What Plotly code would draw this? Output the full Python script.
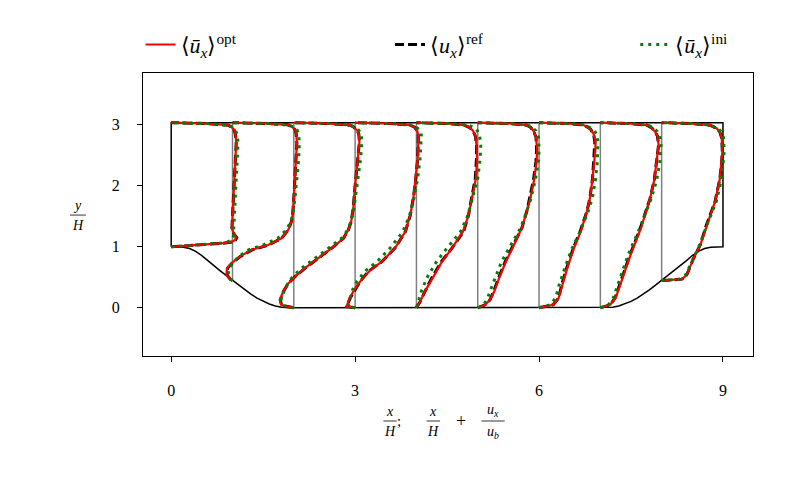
import plotly.graph_objects as go

# station positions x/H
STATIONS = [0, 1, 2, 3, 4, 5, 6, 7, 8]
TOP_WALL = 3.036

# hill contour (left half)
HILL_X = [0.0, 0.1, 0.2, 0.3, 0.4, 0.5, 0.6, 0.7, 0.8, 0.9, 1.0, 1.1, 1.2, 1.3, 1.4, 1.5, 1.6, 1.7, 1.8, 1.93]
HILL_Y = [1.0, 0.999, 0.994, 0.972, 0.925, 0.857, 0.77, 0.68, 0.607, 0.527, 0.448, 0.371, 0.295, 0.223, 0.159, 0.105, 0.062, 0.03, 0.01, 0.0]

# y/H levels of each profile (wall -> top)
Y_LEVELS = [
    [1.0, 1.02, 1.04, 1.06, 1.08, 1.11, 1.15, 1.2, 1.3, 1.5, 1.8, 2.12, 2.45, 2.7, 2.83, 2.91, 2.96, 2.995, 3.02, 3.036],
    [0.448, 0.47, 0.54, 0.65, 0.73, 0.84, 0.95, 1.03, 1.14, 1.28, 1.41, 1.52, 1.8, 2.12, 2.45, 2.7, 2.85, 2.92, 2.97, 3.0, 3.02, 3.036],
    [0.0, 0.02, 0.04, 0.13, 0.27, 0.40, 0.51, 0.65, 0.81, 0.98, 1.14, 1.28, 1.41, 1.63, 1.9, 2.12, 2.45, 2.72, 2.85, 2.91, 2.96, 2.995, 3.02, 3.036],
    [0.0, 0.01, 0.02, 0.16, 0.30, 0.43, 0.60, 0.76, 0.98, 1.25, 1.52, 1.80, 2.12, 2.45, 2.7, 2.83, 2.91, 2.96, 2.995, 3.02, 3.036],
    [0.0, 0.10, 0.27, 0.49, 0.76, 0.98, 1.25, 1.52, 1.80, 2.12, 2.45, 2.67, 2.82, 2.91, 2.96, 2.995, 3.02, 3.036],
    [0.0, 0.02, 0.05, 0.13, 0.27, 0.49, 0.76, 1.03, 1.31, 1.58, 1.80, 2.1, 2.4, 2.6, 2.8, 2.9, 2.96, 2.995, 3.02, 3.036],
    [0.0, 0.02, 0.05, 0.16, 0.38, 0.65, 0.98, 1.25, 1.58, 1.80, 2.1, 2.39, 2.6, 2.72, 2.85, 2.93, 2.97, 3.0, 3.02, 3.036],
    [0.0, 0.02, 0.05, 0.16, 0.40, 0.86, 1.30, 1.79, 2.1, 2.39, 2.67, 2.82, 2.89, 2.95, 2.995, 3.02, 3.036],
    [0.448, 0.455, 0.47, 0.54, 0.81, 1.03, 1.36, 1.74, 2.12, 2.4, 2.56, 2.78, 2.88, 2.94, 2.995, 3.02, 3.036],
]

# u_x/u_b, reference
U_REF = [
    [0, 0.3, 0.6, 0.85, 0.99, 1.05, 1.07, 1.03, 0.99, 1.0, 1.02, 1.04, 1.05, 1.06, 1.05, 1.03, 0.99, 0.93, 0.6, 0],
    [0, -0.04, -0.09, -0.08, -0.01, 0.125, 0.32, 0.59, 0.80, 0.91, 0.96, 0.98, 1.0, 1.02, 1.04, 1.05, 1.04, 1.02, 0.97, 0.9, 0.6, 0],
    [0, -0.12, -0.2, -0.22, -0.17, -0.09, 0.02, 0.185, 0.40, 0.62, 0.81, 0.89, 0.935, 0.97, 0.99, 1.01, 1.04, 1.07, 1.06, 1.03, 0.98, 0.92, 0.6, 0],
    [0, -0.08, -0.14, -0.08, 0.0, 0.08, 0.22, 0.44, 0.65, 0.82, 0.90, 0.95, 0.99, 1.02, 1.03, 1.03, 1.01, 0.97, 0.9, 0.6, 0],
    [0, 0.06, 0.14, 0.25, 0.41, 0.58, 0.77, 0.85, 0.90, 0.96, 0.98, 0.98, 0.96, 0.92, 0.86, 0.78, 0.55, 0],
    [0, 0.06, 0.12, 0.20, 0.26, 0.34, 0.45, 0.58, 0.72, 0.80, 0.85, 0.91, 0.95, 0.96, 0.95, 0.91, 0.86, 0.8, 0.55, 0],
    [0, 0.12, 0.23, 0.32, 0.37, 0.45, 0.56, 0.67, 0.78, 0.83, 0.87, 0.89, 0.91, 0.91, 0.89, 0.84, 0.78, 0.72, 0.5, 0],
    [0, 0.08, 0.16, 0.24, 0.32, 0.48, 0.65, 0.81, 0.88, 0.92, 0.95, 0.93, 0.89, 0.84, 0.76, 0.5, 0],
    [0, 0.15, 0.33, 0.41, 0.52, 0.63, 0.73, 0.87, 0.95, 0.98, 0.99, 0.98, 0.95, 0.90, 0.79, 0.5, 0],
]

# optimised
U_OPT = [
    [0, 0.3, 0.6, 0.85, 0.98, 1.04, 1.06, 1.03, 0.99, 1.0, 1.02, 1.04, 1.05, 1.06, 1.05, 1.03, 0.99, 0.93, 0.6, 0],
    [0, -0.04, -0.1, -0.09, -0.02, 0.12, 0.31, 0.58, 0.80, 0.91, 0.96, 0.98, 1.0, 1.02, 1.04, 1.05, 1.04, 1.02, 0.97, 0.9, 0.6, 0],
    [0, -0.12, -0.2, -0.23, -0.17, -0.09, 0.02, 0.18, 0.40, 0.62, 0.81, 0.89, 0.935, 0.97, 0.99, 1.01, 1.04, 1.07, 1.06, 1.03, 0.98, 0.92, 0.6, 0],
    [0, -0.08, -0.14, -0.09, -0.01, 0.08, 0.23, 0.44, 0.65, 0.82, 0.90, 0.95, 0.99, 1.02, 1.03, 1.03, 1.01, 0.97, 0.9, 0.6, 0],
    [0, 0.06, 0.14, 0.26, 0.42, 0.58, 0.76, 0.85, 0.91, 0.97, 0.99, 0.98, 0.96, 0.92, 0.86, 0.78, 0.55, 0],
    [0, 0.06, 0.12, 0.20, 0.27, 0.35, 0.46, 0.59, 0.72, 0.80, 0.86, 0.92, 0.96, 0.97, 0.95, 0.91, 0.86, 0.8, 0.55, 0],
    [0, 0.12, 0.23, 0.32, 0.38, 0.46, 0.57, 0.68, 0.78, 0.83, 0.87, 0.90, 0.92, 0.92, 0.89, 0.84, 0.78, 0.72, 0.5, 0],
    [0, 0.08, 0.16, 0.25, 0.33, 0.49, 0.66, 0.81, 0.88, 0.92, 0.95, 0.93, 0.89, 0.84, 0.76, 0.5, 0],
    [0, 0.15, 0.33, 0.41, 0.52, 0.63, 0.74, 0.87, 0.95, 0.98, 0.99, 0.98, 0.95, 0.90, 0.79, 0.5, 0],
]

# initial
U_INI = [
    [0, 0.28, 0.56, 0.8, 0.92, 0.98, 1.01, 1.02, 1.02, 1.03, 1.05, 1.07, 1.08, 1.09, 1.08, 1.05, 1.0, 0.93, 0.6, 0],
    [0, -0.03, -0.07, -0.06, 0.0, 0.1, 0.26, 0.5, 0.74, 0.88, 0.95, 0.98, 1.02, 1.05, 1.08, 1.09, 1.08, 1.05, 0.99, 0.9, 0.6, 0],
    [0, -0.1, -0.18, -0.21, -0.16, -0.1, -0.02, 0.13, 0.34, 0.57, 0.78, 0.88, 0.93, 0.98, 1.02, 1.05, 1.09, 1.11, 1.1, 1.06, 1.0, 0.92, 0.6, 0],
    [0, -0.07, -0.12, -0.08, -0.04, 0.03, 0.16, 0.36, 0.57, 0.78, 0.89, 0.96, 1.02, 1.06, 1.08, 1.08, 1.06, 1.0, 0.92, 0.6, 0],
    [0, 0.03, 0.08, 0.17, 0.33, 0.5, 0.72, 0.84, 0.92, 1.0, 1.04, 1.05, 1.03, 0.99, 0.93, 0.85, 0.55, 0],
    [0, 0.05, 0.09, 0.15, 0.2, 0.28, 0.39, 0.54, 0.7, 0.80, 0.87, 0.94, 0.99, 1.0, 0.99, 0.95, 0.89, 0.82, 0.55, 0],
    [0, 0.09, 0.18, 0.27, 0.33, 0.42, 0.54, 0.67, 0.80, 0.87, 0.92, 0.95, 0.96, 0.96, 0.94, 0.88, 0.8, 0.72, 0.5, 0],
    [0, 0.06, 0.13, 0.21, 0.29, 0.45, 0.64, 0.83, 0.92, 0.97, 0.99, 0.97, 0.93, 0.87, 0.78, 0.5, 0],
    [0, 0.12, 0.29, 0.39, 0.51, 0.62, 0.74, 0.89, 0.98, 1.01, 1.02, 1.01, 0.98, 0.92, 0.8, 0.5, 0],
]

SERIF = "Liberation Serif"


def profile_xy(u_lists):
    xs, ys = [], []
    for st, yl, ul in zip(STATIONS, Y_LEVELS, u_lists):
        xs += [st + u for u in ul] + [None]
        ys += list(yl) + [None]
    return xs, ys


fig = go.Figure()

# domain outline: left hill, flat floor, mirrored right hill, walls
bx = HILL_X + [9 - x for x in reversed(HILL_X)] + [9, 0, 0]
by = HILL_Y + list(reversed(HILL_Y)) + [TOP_WALL, TOP_WALL, 1.0]
fig.add_trace(go.Scatter(x=bx, y=by, mode="lines", line=dict(color="black", width=1.5),
                         showlegend=False, hoverinfo="skip"))

# station base lines
gx, gy = [], []
for st, yl in zip(STATIONS[1:], Y_LEVELS[1:]):
    gx += [st, st, None]
    gy += [yl[0], TOP_WALL, None]
fig.add_trace(go.Scatter(x=gx, y=gy, mode="lines", line=dict(color="#7f7f7f", width=1.5),
                         showlegend=False, hoverinfo="skip"))

x, y = profile_xy(U_REF)
fig.add_trace(go.Scatter(x=x, y=y, mode="lines", name="⟨<i>u</i><sub><i>x</i></sub>⟩<sup>ref</sup>",
                         line=dict(color="black", width=3, dash="9px,4px"), legend="legend2"))
x, y = profile_xy(U_OPT)
fig.add_trace(go.Scatter(x=x, y=y, mode="lines", name="⟨<i>ū</i><sub><i>x</i></sub>⟩<sup>opt</sup>",
                         line=dict(color="red", width=2.2), legend="legend"))
x, y = profile_xy(U_INI)
fig.add_trace(go.Scatter(x=x, y=y, mode="lines", name="⟨<i>ū</i><sub><i>x</i></sub>⟩<sup>ini</sup>",
                         line=dict(color="green", width=3, dash="3px,5px"), legend="legend3"))

axis_style = dict(showline=True, mirror=True, linecolor="black", linewidth=1, ticks="outside",
                  ticklen=5, tickcolor="black", showgrid=False, zeroline=False,
                  tickfont=dict(family=SERIF, size=16, color="black"))
fig.update_xaxes(range=[-0.46, 9.49], tickvals=[0, 3, 6, 9], ticklabelstandoff=15, **axis_style)
fig.update_yaxes(range=[-0.79, 3.85], tickvals=[0, 1, 2, 3], ticklabelstandoff=14, **axis_style)


# axis titles written as stacked fractions
def frac(xc, yc, num, den, half, size=14):
    fig.add_annotation(x=xc, y=yc, xref="paper", yref="paper", text=num, showarrow=False,
                       xanchor="center", yanchor="bottom", yshift=0,
                       font=dict(family=SERIF, size=size, color="black"))
    fig.add_annotation(x=xc, y=yc, xref="paper", yref="paper", text=den, showarrow=False,
                       xanchor="center", yanchor="top", yshift=-1,
                       font=dict(family=SERIF, size=size, color="black"))
    fig.add_shape(type="line", xref="paper", yref="paper", x0=xc - half, x1=xc + half, y0=yc, y1=yc,
                  line=dict(color="black", width=0.8))


frac(-0.1066, 0.498, "<i>y</i>", "<i>H</i>", 0.013)
frac(0.405, -0.2297, "<i>x</i>", "<i>H</i>", 0.011)
frac(0.476, -0.2297, "<i>x</i>", "<i>H</i>", 0.011)
frac(0.574, -0.2297, "<i>u</i><sub><i>x</i></sub>", "<i>u</i><sub><i>b</i></sub>", 0.019)
fig.add_annotation(x=0.419, y=-0.2297, xref="paper", yref="paper", text=";", showarrow=False,
                   xanchor="center", yanchor="middle", font=dict(family=SERIF, size=15, color="black"))
fig.add_annotation(x=0.522, y=-0.2297, xref="paper", yref="paper", text="+", showarrow=False,
                   xanchor="center", yanchor="middle", font=dict(family=SERIF, size=18, color="black"))

legend_style = dict(orientation="h", xanchor="left", y=1.1, yanchor="middle", itemwidth=30,
                    font=dict(family=SERIF, size=22, color="black"), bgcolor="rgba(0,0,0,0)")

# page body has an 8 px margin, so the figure is sized to fit inside it
fig.update_layout(
    width=777,
    height=474,
    margin=dict(l=135, r=32, t=65, b=126),
    plot_bgcolor="white",
    paper_bgcolor="white",
    legend=dict(x=-0.004, **legend_style),
    legend2=dict(x=0.405, **legend_style),
    legend3=dict(x=0.807, **legend_style),
)

fig.write_html("out.html")
